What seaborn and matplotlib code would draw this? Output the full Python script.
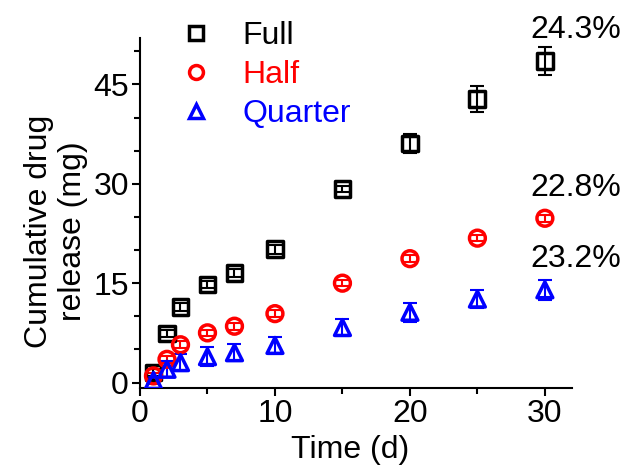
import numpy as np
import pandas as pd
import matplotlib
matplotlib.use("Agg")
import matplotlib.pyplot as plt
from matplotlib.lines import Line2D
from matplotlib.ticker import MultipleLocator
import seaborn as sns

# release data
time_d = [1, 2, 3, 5, 7, 10, 15, 20, 25, 30]
full = [1.5, 7.4, 11.4, 14.8, 16.5, 20.1, 29.2, 36.1, 42.8, 48.6]
full_err = [0.5, 0.6, 0.6, 0.5, 0.6, 0.7, 0.5, 1.4, 2.0, 2.1]
half = [1.0, 3.5, 5.7, 7.5, 8.5, 10.4, 15.0, 18.7, 21.8, 24.8]
half_err = [0.4, 0.5, 0.5, 0.5, 0.5, 0.5, 0.5, 0.5, 0.5, 0.5]
quarter = [0.3, 2.0, 3.0, 3.9, 4.5, 5.6, 8.3, 10.6, 12.6, 14.0]
quarter_err = [0.6, 1.2, 1.3, 1.4, 1.3, 1.3, 1.3, 1.4, 1.3, 1.5]

groups = ["Full", "Half", "Quarter"]
colors = ["black", "red", "blue"]
markers = ["s", "o", "^"]
final_pct = ["24.3%", "22.8%", "23.2%"]
pct_y = [53.3, 29.3, 18.7]

df = pd.DataFrame({
    "time": time_d * 3,
    "release": full + half + quarter,
    "err": full_err + half_err + quarter_err,
    "group": [g for g in groups for _ in time_d],
})

sns.set_theme(style="ticks")
plt.rcParams["font.family"] = ["Liberation Sans", "DejaVu Sans"]
plt.rcParams["text.color"] = "black"
plt.rcParams["axes.labelcolor"] = "black"
plt.rcParams["xtick.color"] = "black"
plt.rcParams["ytick.color"] = "black"

FS = 23

fig = plt.figure(figsize=(6.25, 4.65), dpi=100)
ax = fig.add_axes([0.224, 0.166, 0.691, 0.752])

for g, c, m in zip(groups, colors, markers):
    d = df[df["group"] == g]
    ax.errorbar(d["time"], d["release"], yerr=d["err"], fmt="none",
                ecolor=c, elinewidth=1.5, capsize=5, capthick=1.5, zorder=2)
    sns.scatterplot(data=d, x="time", y="release", marker=m, s=130,
                    facecolors="none", edgecolor=c, linewidth=2.5,
                    ax=ax, zorder=3, legend=False)

# final percentage labels
for txt, yy in zip(final_pct, pct_y):
    ax.text(32.3, yy, txt, ha="center", va="center", fontsize=FS,
            color="black", clip_on=False)

handles = [Line2D([], [], linestyle="none", marker=m, markersize=10,
                  markerfacecolor="none", markeredgecolor=c, markeredgewidth=2.5)
           for m, c in zip(markers, colors)]
leg = ax.legend(handles, groups, loc="upper left", bbox_to_anchor=(0.045, 1.085),
                frameon=False, fontsize=FS, handletextpad=0.7,
                labelspacing=0.28, borderaxespad=0, handlelength=1.5)
for t, c in zip(leg.get_texts(), colors):
    t.set_color(c)

ax.set_xlim(0, 32)
ax.set_ylim(-0.8, 52)
ax.xaxis.set_major_locator(MultipleLocator(10))
ax.xaxis.set_minor_locator(MultipleLocator(5))
ax.yaxis.set_major_locator(MultipleLocator(15))
ax.yaxis.set_minor_locator(MultipleLocator(5))
ax.tick_params(which="major", length=6, width=1.5, labelsize=FS, pad=2)
ax.tick_params(which="minor", length=4, width=1.5)
for s in ["left", "bottom"]:
    ax.spines[s].set_linewidth(1.5)
    ax.spines[s].set_color("black")
sns.despine(ax=ax)

ax.set_xlabel("Time (d)", fontsize=FS)
ax.set_ylabel("Cumulative drug\nrelease (mg)", fontsize=FS)
ax.xaxis.set_label_coords(0.487, -0.135)
ax.yaxis.set_label_coords(-0.12, 0.447)

fig.savefig("out.png", dpi=100)
